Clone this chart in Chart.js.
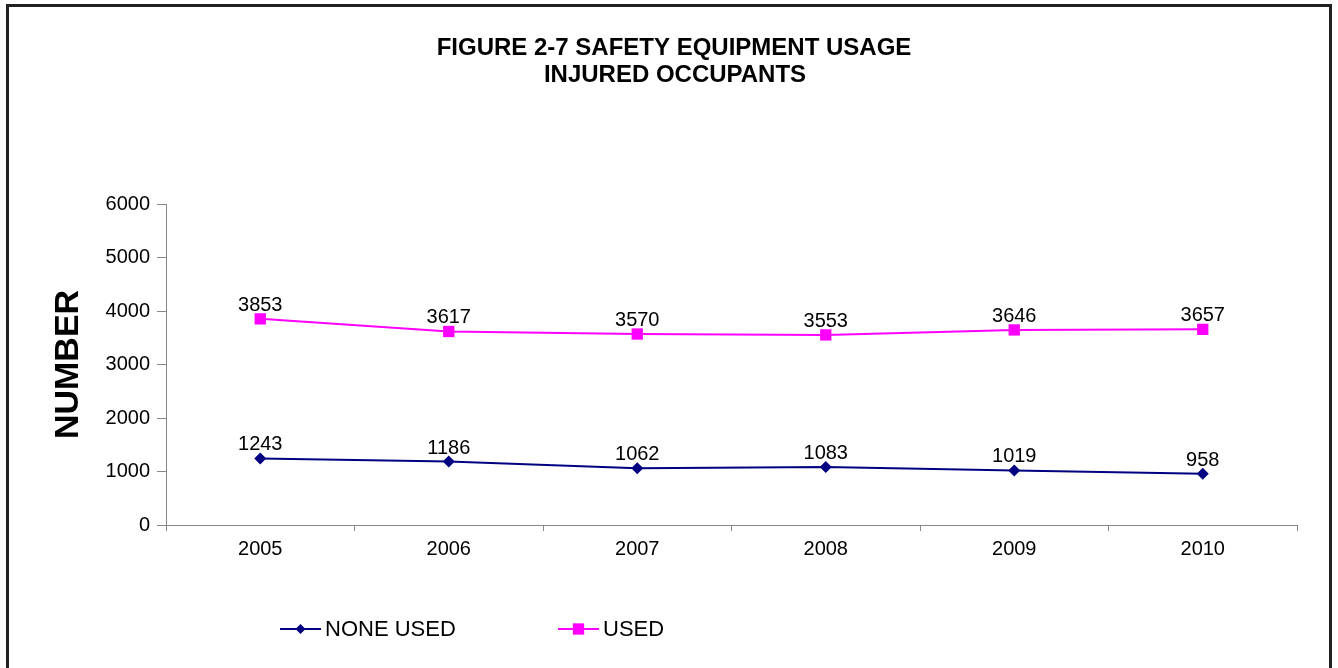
<!DOCTYPE html>
<html>
<head>
<meta charset="utf-8">
<script src="https://cdn.jsdelivr.net/npm/chart.js@4.4.1/dist/chart.umd.min.js"></script>
<style>
  html, body { margin: 0; padding: 0; background: #fff; }
  #wrap { position: absolute; left: 0; top: 0; width: 1338px; height: 668px; }
  #frame { position: absolute; left: 6px; top: 4px; width: 1320px; height: 700px;
           border: 3px solid #222; pointer-events: none; }
</style>
</head>
<body>
<div id="wrap"><canvas id="grafico"></canvas></div>
<div id="frame"></div>
<script>
// dados
const anos = ['2005', '2006', '2007', '2008', '2009', '2010'];
const nenhumUsado = [1243, 1186, 1062, 1083, 1019, 958];
const usado = [3853, 3617, 3570, 3553, 3646, 3657];
const eixoY = { min: 0, max: 6000, passo: 1000 };
const titulo = ['FIGURE 2-7 SAFETY EQUIPMENT USAGE', 'INJURED OCCUPANTS'];
const rotulos = ['NONE USED', 'USED'];

const FONTE = "'Liberation Sans', Arial, sans-serif";
const NAVY = '#000080';
const MAGENTA = '#FF00FF';
const CINZA = '#868686';

// título da figura (desenhado à mão para ficar centrado como no original)
const tituloPlugin = {
    id: 'tituloFigura',
    afterDraw(chart) {
        const ctx = chart.ctx;
        ctx.save();
        ctx.font = 'bold 24px ' + FONTE;
        ctx.fillStyle = '#000';
        ctx.textAlign = 'center';
        ctx.textBaseline = 'alphabetic';
        ctx.fillText(titulo[0], 674, 55);
        ctx.fillText(titulo[1], 675, 82);
        ctx.restore();
    }
};

// valores em cima de cada ponto
const valoresPlugin = {
    id: 'valores',
    afterDatasetsDraw(chart) {
        const ctx = chart.ctx;
        ctx.save();
        ctx.font = '20px ' + FONTE;
        ctx.fillStyle = '#000';
        ctx.textAlign = 'center';
        ctx.textBaseline = 'alphabetic';
        chart.data.datasets.forEach((ds, i) => {
            chart.getDatasetMeta(i).data.forEach((pt, j) => {
                ctx.fillText(String(ds.data[j]), pt.x, pt.y - 8);
            });
        });
        ctx.restore();
    }
};

// legenda estilo Excel: linha + marcador + texto
const legendaPlugin = {
    id: 'legendaExcel',
    afterDraw(chart) {
        const ctx = chart.ctx;
        const area = chart.chartArea;
        const y = area.bottom + 104;
        const itens = [
            { x: area.left + 114, cor: NAVY, estilo: 'rectRot', raio: 5, texto: rotulos[0] },
            { x: area.left + 392, cor: MAGENTA, estilo: 'rect', raio: 8, texto: rotulos[1] }
        ];
        ctx.save();
        itens.forEach(it => {
            ctx.strokeStyle = it.cor;
            ctx.lineWidth = 2;
            ctx.beginPath();
            ctx.moveTo(it.x, y);
            ctx.lineTo(it.x + 41, y);
            ctx.stroke();
            ctx.fillStyle = it.cor;
            Chart.helpers.drawPoint(ctx, { pointStyle: it.estilo, rotation: 0, radius: it.raio, borderWidth: 0 }, it.x + 20.5, y);
            ctx.fillStyle = '#000';
            ctx.font = '22px ' + FONTE;
            ctx.textBaseline = 'middle';
            ctx.textAlign = 'left';
            ctx.fillText(it.texto, it.x + 45, y + 1);
        });
        ctx.restore();
    }
};

const ctx = document.getElementById('grafico').getContext('2d');
const grafico = new Chart(ctx, {
    type: 'line',
    data: {
        labels: anos,
        datasets: [
            {
                label: rotulos[0],
                data: nenhumUsado,
                borderColor: NAVY,
                backgroundColor: NAVY,
                borderWidth: 2,
                pointStyle: 'rectRot',
                pointRadius: 6,
                pointBorderWidth: 0,
                tension: 0
            },
            {
                label: rotulos[1],
                data: usado,
                borderColor: MAGENTA,
                backgroundColor: MAGENTA,
                borderWidth: 2,
                pointStyle: 'rect',
                pointRadius: 8,
                pointBorderWidth: 0,
                tension: 0
            }
        ]
    },
    options: {
        responsive: true, maintainAspectRatio: false, animation: false,
        layout: { padding: { left: 10, right: 41, top: 204, bottom: 103 } },
        plugins: {
            legend: { display: false },
            title: { display: false },
            tooltip: { enabled: false }
        },
        scales: {
            x: {
                offset: true,
                afterFit: s => { s.height = 40; },
                grid: { offset: true, drawOnChartArea: false, drawTicks: true, tickLength: 6, color: CINZA },
                border: { color: CINZA, width: 1 },
                ticks: { color: '#000', font: { family: FONTE, size: 20 }, padding: 6, maxRotation: 0 }
            },
            y: {
                min: eixoY.min, max: eixoY.max,
                afterFit: s => { s.width = 156; },
                grid: { drawOnChartArea: false, drawTicks: true, tickLength: 9, color: CINZA },
                border: { color: CINZA, width: 1 },
                ticks: {
                    stepSize: eixoY.passo, color: '#000', font: { family: FONTE, size: 20 }, padding: 7,
                    callback: v => String(v)
                },
                title: {
                    display: true, text: 'NUMBER', color: '#000',
                    font: { family: FONTE, size: 34, weight: 'bold' },
                    padding: { top: 38, bottom: 0 }
                }
            }
        }
    },
    plugins: [tituloPlugin, valoresPlugin, legendaPlugin]
});
</script>
</body>
</html>
